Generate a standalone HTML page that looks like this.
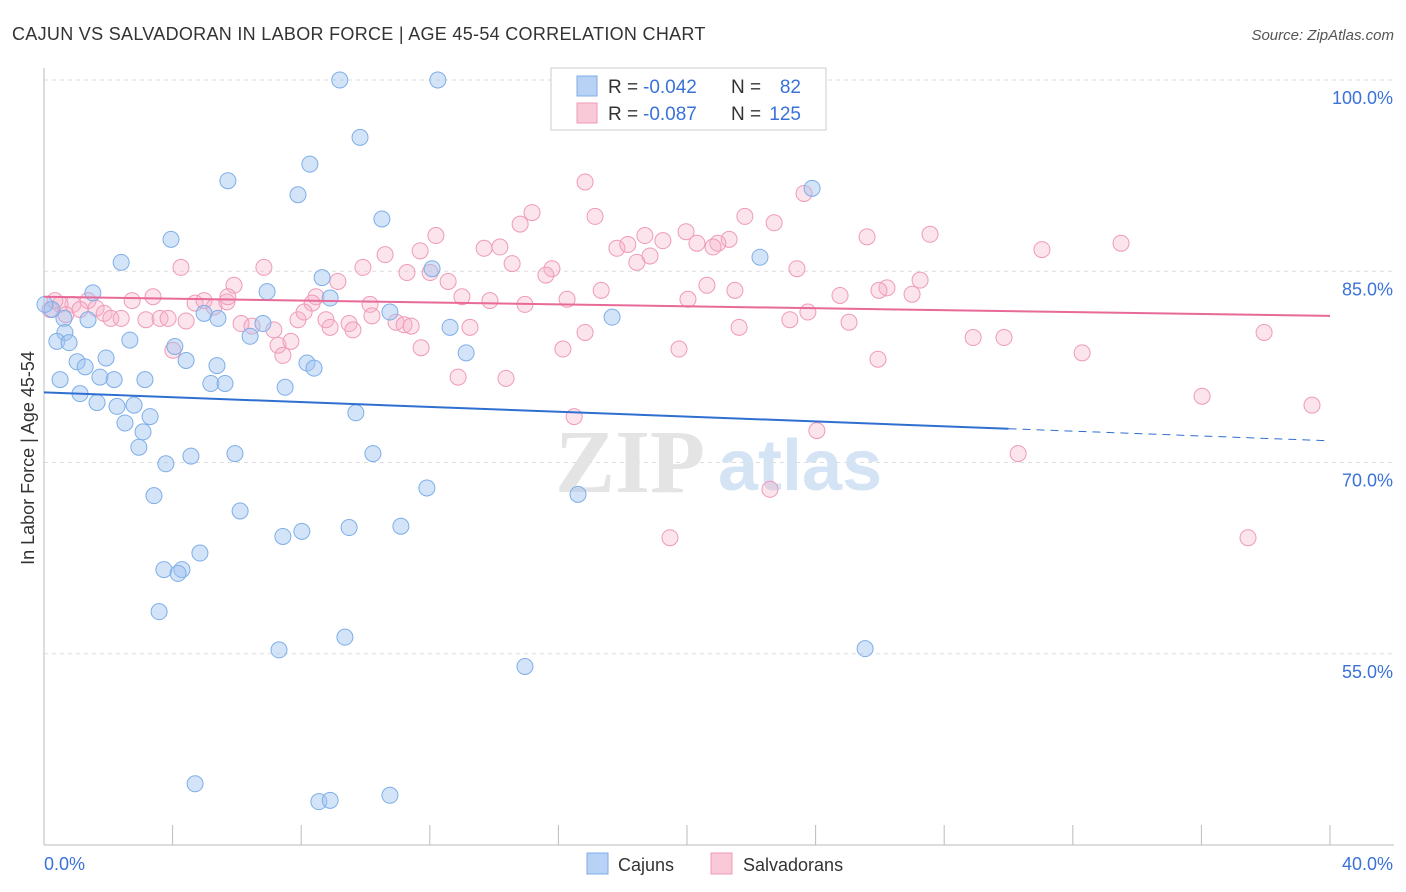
<!DOCTYPE html>
<html><head><meta charset="utf-8">
<style>
body{margin:0;background:#fff;font-family:"Liberation Sans",sans-serif;}
svg{display:block}
</style></head>
<body>
<svg id="chart" width="1406" height="892" viewBox="0 0 1406 892" xmlns="http://www.w3.org/2000/svg">
<text x="12" y="40" font-size="18" fill="#333" letter-spacing="0.3">CAJUN VS SALVADORAN IN LABOR FORCE | AGE 45-54 CORRELATION CHART</text>
<text x="1394" y="40" font-size="15" fill="#555" text-anchor="end" font-style="italic">Source: ZipAtlas.com</text>
<g id="grid"></g>
<g id="axes"></g>
<text x="555" y="492" font-size="90" fill="#e4e4e4" font-family="Liberation Serif,serif" font-weight="bold">ZIP</text>
<text x="718" y="490" font-size="72" fill="#d5e4f5" font-weight="bold">atlas</text>
<g id="pink"></g>
<g id="blue"></g>
<g id="trends"></g>
<text transform="translate(34,458) rotate(-90)" font-size="18" fill="#333" text-anchor="middle">In Labor Force | Age 45-54</text>
<g>
<rect x="551" y="68" width="275" height="62" fill="#fff" stroke="#ccc"/>
<rect x="577" y="76" width="20" height="20" fill="#b8d2f5" stroke="#7eaee8"/>
<text x="608" y="93" font-size="19" fill="#333">R =</text>
<text x="643" y="93" font-size="19" fill="#3a72d8">-0.042</text>
<text x="731" y="93" font-size="19" fill="#333">N =</text>
<text x="801" y="93" font-size="19" fill="#3a72d8" text-anchor="end">82</text>
<rect x="577" y="103" width="20" height="20" fill="#f9c9d8" stroke="#ef9ab8"/>
<text x="608" y="120" font-size="19" fill="#333">R =</text>
<text x="643" y="120" font-size="19" fill="#3a72d8">-0.087</text>
<text x="731" y="120" font-size="19" fill="#333">N =</text>
<text x="801" y="120" font-size="19" fill="#3a72d8" text-anchor="end">125</text>
</g>
<g>
<rect x="587" y="853" width="21" height="21" fill="#b8d2f5" stroke="#7eaee8"/>
<text x="618" y="871" font-size="18" fill="#333">Cajuns</text>
<rect x="711" y="853" width="21" height="21" fill="#f9c9d8" stroke="#ef9ab8"/>
<text x="743" y="871" font-size="18" fill="#333">Salvadorans</text>
</g>
</svg>
<script>
const yTicks=[100,85,70,55];
const yTickLabels=["100.0%","85.0%","70.0%","55.0%"];
const xTicks=[0,4,8,12,16,20,24,28,32,36,40];
const xEndLabels=["0.0%","40.0%"];
const cajunX=[9.2,12.25,9.83,8.27,5.72,7.9,10.51,3.95,2.4,22.27,23.89,8.65,12.07,1.52,6.94,8.9,4.98,5.41,10.76,17.67,0.62,1.37,0.25,0.03,0.65,0.4,0.78,2.67,6.81,6.41,4.07,4.42,1.93,1.03,1.28,12.63,13.13,5.38,8.18,8.4,0.5,1.74,2.18,3.14,5.19,5.63,7.5,1.12,1.65,2.27,2.8,3.3,2.52,3.08,9.7,2.95,3.79,4.57,5.94,10.23,3.42,6.1,11.91,16.61,7.43,8.02,9.49,11.1,4.85,3.73,4.29,4.17,3.58,9.36,7.31,14.96,25.54,4.7,8.55,8.9,10.76];
const cajunY=[100,100,95.5,93.4,92.1,91.0,89.1,87.5,85.7,86.1,91.5,84.5,85.2,83.3,83.4,82.9,81.7,81.3,81.8,81.4,81.3,81.2,82.0,82.4,80.2,79.5,79.4,79.6,80.9,79.9,79.1,78.0,78.2,77.9,77.5,80.6,78.6,77.6,77.8,77.4,76.5,76.7,76.5,76.5,76.2,76.2,75.9,75.4,74.7,74.4,74.5,73.6,73.1,72.4,73.9,71.2,69.9,70.5,70.7,70.7,67.4,66.2,68.0,67.5,64.2,64.6,64.9,65.0,62.9,61.6,61.6,61.3,58.3,56.3,55.3,54.0,55.4,44.8,43.4,43.5,43.9];
const salvX=[16.83,23.64,15.18,17.14,21.8,22.71,14.81,12.19,18.69,19.97,21.31,25.6,27.56,33.5,19.25,17.82,18.16,20.96,20.31,13.69,14.18,11.7,10.61,31.04,20.81,18.85,18.44,14.56,4.26,6.84,9.92,15.8,15.61,23.42,11.29,12.01,12.57,5.91,9.14,27.25,26.22,25.97,20.62,21.49,17.33,27,24.76,13,13.87,14.96,16.27,20.03,3.39,4.7,4.98,5.29,5.69,8.46,8.34,5.72,2.74,1.37,0.9,1.62,1.87,2.08,2.4,3.17,3.61,3.86,4.42,6.13,6.47,7.15,7.9,8.09,8.77,10.14,10.95,11.2,11.42,9.49,10.2,8.9,9.61,7.28,7.68,7.43,4.01,13.25,16.83,21.62,23.2,25.04,23.76,37.95,11.73,16.14,19.75,25.94,28.9,29.86,32.29,12.88,14.37,16.49,36.02,39.44,24.04,30.3,19.47,37.45,22.58,0.5,0.19,0.34,0.68,1.12];
const salvY=[92.0,91.1,89.6,89.3,89.3,88.8,88.7,87.8,87.8,88.1,87.5,87.7,87.9,87.2,87.4,86.8,87.1,87.2,87.2,86.8,86.9,86.6,86.3,86.7,86.9,86.2,85.7,85.6,85.3,85.3,85.3,85.2,84.7,85.2,84.9,84.9,84.2,83.9,84.2,84.3,83.7,83.5,83.9,83.5,83.5,83.2,83.1,83.0,82.7,82.4,82.8,82.8,83.0,82.5,82.7,82.2,82.6,83.0,82.5,83.0,82.7,82.7,82.4,82.1,81.7,81.3,81.3,81.2,81.3,81.3,81.1,80.9,80.7,80.4,81.2,81.8,81.2,82.4,81.0,80.8,80.7,80.9,81.5,80.6,80.4,79.2,79.5,78.4,78.8,80.6,80.2,80.6,81.2,81.0,81.8,80.2,79.0,78.9,78.9,78.1,79.8,79.8,78.6,76.7,76.6,73.6,75.2,74.5,72.5,70.7,64.1,64.1,67.9,82.4,82.0,82.7,81.6,82.0];
const cajunTrend=[75.5,71.7];
const cajunSolidEnd=30;
const salvTrend=[83.0,81.5];

const NS="http://www.w3.org/2000/svg";
const X=v=>44+v*32.15;
const Y=v=>80+(100-v)*12.75;
function mk(tag,attrs,parent){const e=document.createElementNS(NS,tag);for(const k in attrs)e.setAttribute(k,attrs[k]);parent.appendChild(e);return e;}
const grid=document.getElementById('grid'),axes=document.getElementById('axes');
yTicks.forEach((t,i)=>{
  const l=mk('line',{x1:44,x2:1394,y1:Y(t),y2:Y(t),stroke:'#ddd','stroke-dasharray':'4,4'},grid);
  
  
  const tx=mk('text',{x:1393,y:Y(t)+24,'font-size':18,fill:'#3a72d8','text-anchor':'end'},axes);
  tx.textContent=yTickLabels[i];
  
  
});
const yl=mk('line',{x1:44,x2:44,y1:68,y2:845,stroke:'#bbb'},axes);


const xl=mk('line',{x1:44,x2:1394,y1:845,y2:845,stroke:'#bbb'},axes);


xTicks.forEach(t=>{
  const l=mk('line',{x1:X(t),x2:X(t),y1:825,y2:845,stroke:'#bbb'},axes);
  
  
});
const x0=mk('text',{x:44,y:870,'font-size':18,fill:'#3a72d8'},axes);x0.textContent=xEndLabels[0];


const x1=mk('text',{x:1393,y:870,'font-size':18,fill:'#3a72d8','text-anchor':'end'},axes);x1.textContent=xEndLabels[1];



const pg=document.getElementById('pink');
salvX.forEach((x,i)=>{
  const c=mk('circle',{cx:X(x),cy:Y(salvY[i]),r:8,fill:'rgba(246,178,200,0.35)',stroke:'#ef9ab8','stroke-width':1},pg);
  
  
});
const bg=document.getElementById('blue');
cajunX.forEach((x,i)=>{
  const c=mk('circle',{cx:X(x),cy:Y(cajunY[i]),r:8,fill:'rgba(160,196,240,0.45)',stroke:'#7eaee8','stroke-width':1},bg);
  
  
});
const tg=document.getElementById('trends');
const ct=x=>cajunTrend[0]+(cajunTrend[1]-cajunTrend[0])*x/40;
const t1=mk('line',{x1:X(0),y1:Y(ct(0)),x2:X(cajunSolidEnd),y2:Y(ct(cajunSolidEnd)),stroke:'#2f6fd0','stroke-width':2},tg);


const t2=mk('line',{x1:X(cajunSolidEnd),y1:Y(ct(cajunSolidEnd)),x2:X(40),y2:Y(ct(40)),stroke:'#2f6fd0','stroke-width':1,'stroke-dasharray':'8,6'},tg);


const t3=mk('line',{x1:X(0),y1:Y(salvTrend[0]),x2:X(40),y2:Y(salvTrend[1]),stroke:'#e86a98','stroke-width':2},tg);


</script>
</body></html>
